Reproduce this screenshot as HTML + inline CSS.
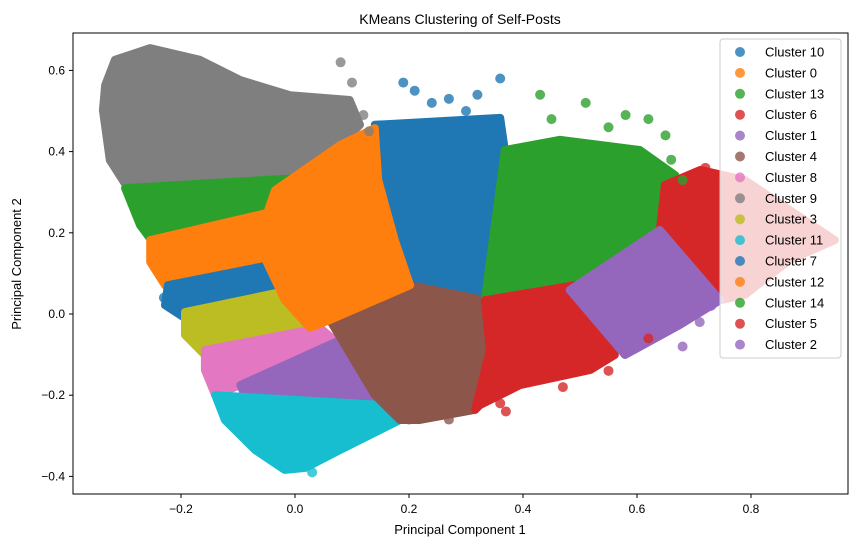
<!DOCTYPE html>
<html><head><meta charset="utf-8">
<style>
body{margin:0;background:#fff;}
svg text{font-family:"Liberation Sans","DejaVu Sans",sans-serif;}
</style></head>
<body>
<svg id="chart" width="857" height="547" viewBox="0 0 857 547" xmlns="http://www.w3.org/2000/svg">
<rect width="857" height="547" fill="#fff"/>
<text x="460" y="24" font-size="14" text-anchor="middle">KMeans Clustering of Self-Posts</text>
<g id="clusters"></g>
<g id="points"></g>
<rect x="73" y="33" width="775" height="461" fill="none" stroke="#000" stroke-width="1"/>
<g id="xticks"></g><g id="yticks"></g>
<text x="460" y="534" font-size="13" text-anchor="middle">Principal Component 1</text>
<text x="21" y="264" font-size="13" text-anchor="middle" transform="rotate(-90 21 264)">Principal Component 2</text>
<g id="legend"></g>
</svg>
<script>
const NS="http://www.w3.org/2000/svg";
const xTicks=[-0.2,0.0,0.2,0.4,0.6,0.8];
const yTicks=[-0.4,-0.2,0.0,0.2,0.4,0.6];
const legendNames=["Cluster 10","Cluster 0","Cluster 13","Cluster 6","Cluster 1","Cluster 4","Cluster 8","Cluster 9","Cluster 3","Cluster 11","Cluster 7","Cluster 12","Cluster 14","Cluster 5","Cluster 2"];
const legendColors=["#1f77b4","#ff7f0e","#2ca02c","#d62728","#9467bd","#8c564b","#e377c2","#7f7f7f","#bcbd22","#17becf","#1f77b4","#ff7f0e","#2ca02c","#d62728","#9467bd"];
const cluster9=[[-0.333,0.564],[-0.316,0.626],[-0.254,0.655],[-0.167,0.626],[-0.096,0.576],[-0.009,0.539],[0.096,0.527],[0.114,0.466],[0.044,0.367],[0.009,0.330],[-0.149,0.318],[-0.289,0.300],[-0.325,0.379],[-0.337,0.502]];
const cluster14=[[-0.298,0.310],[0.009,0.335],[0.009,0.256],[-0.246,0.170],[-0.272,0.219]];
const cluster12=[[-0.254,0.182],[0.009,0.268],[-0.018,0.128],[-0.228,0.071],[-0.254,0.128]];
const cluster7=[[-0.223,0.071],[-0.018,0.128],[0.009,0.059],[-0.193,-0.010],[-0.228,0.022]];
const cluster3=[[-0.193,0.005],[0.009,0.064],[0.044,-0.039],[-0.158,-0.101],[-0.193,-0.052]];
const cluster8=[[-0.158,-0.089],[0.044,-0.034],[0.079,-0.076],[-0.096,-0.175],[-0.140,-0.200],[-0.158,-0.138]];
const cluster1=[[-0.096,-0.175],[0.079,-0.064],[0.140,-0.212],[-0.088,-0.200]];
const cluster11=[[-0.140,-0.200],[0.149,-0.224],[0.184,-0.261],[0.079,-0.335],[0.018,-0.379],[-0.018,-0.384],[-0.070,-0.335],[-0.123,-0.261]];
const cluster0=[[-0.035,0.305],[0.079,0.416],[0.140,0.458],[0.146,0.330],[0.175,0.182],[0.202,0.071],[0.061,-0.015],[0.026,-0.034],[-0.018,0.034],[-0.053,0.138],[-0.047,0.256]];
const cluster10=[[0.140,0.466],[0.360,0.483],[0.368,0.404],[0.333,0.034],[0.202,0.059],[0.175,0.182],[0.146,0.330]];
const cluster4=[[0.061,-0.015],[0.202,0.071],[0.333,0.034],[0.342,-0.089],[0.316,-0.236],[0.219,-0.261],[0.184,-0.261],[0.140,-0.200]];
const cluster13=[[0.368,0.404],[0.465,0.429],[0.605,0.404],[0.667,0.342],[0.649,0.207],[0.640,0.121],[0.491,0.071],[0.333,0.034]];
const cluster6=[[0.333,0.034],[0.491,0.071],[0.561,-0.101],[0.518,-0.138],[0.395,-0.175],[0.325,-0.224],[0.316,-0.236],[0.342,-0.089]];
const cluster5=[[0.649,0.318],[0.711,0.355],[0.789,0.330],[0.868,0.256],[0.947,0.182],[0.868,0.133],[0.789,0.047],[0.746,0.034],[0.711,0.059],[0.640,0.207]];
const cluster2=[[0.482,0.059],[0.640,0.207],[0.746,0.034],[0.675,-0.027],[0.579,-0.101]];
const regions=[[cluster9,"#7f7f7f","cluster-9"],[cluster14,"#2ca02c","cluster-14"],[cluster12,"#ff7f0e","cluster-12"],[cluster7,"#1f77b4","cluster-7"],[cluster3,"#bcbd22","cluster-3"],[cluster8,"#e377c2","cluster-8"],[cluster1,"#9467bd","cluster-1"],[cluster11,"#17becf","cluster-11"],[cluster10,"#1f77b4","cluster-10"],[cluster4,"#8c564b","cluster-4"],[cluster13,"#2ca02c","cluster-13"],[cluster6,"#d62728","cluster-6"],[cluster5,"#d62728","cluster-5"],[cluster2,"#9467bd","cluster-2"],[cluster0,"#ff7f0e","cluster-0"]];
const outliers=[[-0.26,0.64,7],[-0.24,0.63,7],[-0.11,0.58,7],[-0.05,0.55,7],[0.08,0.62,7],[0.03,0.52,7],[0.1,0.57,7],[-0.2,0.6,7],[-0.15,0.57,7],[-0.08,0.54,7],[0.0,0.53,7],[0.06,0.5,7],[0.12,0.49,7],[0.13,0.45,7],[0.19,0.57,0],[0.21,0.55,0],[0.27,0.53,0],[0.36,0.58,0],[0.32,0.54,0],[0.24,0.52,0],[0.3,0.5,0],[0.43,0.54,2],[0.51,0.52,2],[0.58,0.49,2],[0.62,0.48,2],[0.65,0.44,2],[0.66,0.38,2],[0.45,0.48,2],[0.55,0.46,2],[0.68,0.33,2],[0.72,0.36,3],[0.74,0.34,3],[0.62,-0.06,3],[0.55,-0.14,3],[0.47,-0.18,3],[0.37,-0.24,3],[0.36,-0.22,3],[0.68,-0.08,4],[0.71,-0.02,4],[0.27,-0.26,5],[0.2,-0.26,5],[0.13,-0.27,9],[0.15,-0.28,9],[0.03,-0.39,9],[-0.23,0.04,0],[-0.26,0.22,2],[-0.33,0.5,7],[0.73,0.02,4]];
const X=v=>295+v*570, Y=v=>314-v*406;
const gC=document.getElementById('clusters');
regions.forEach(r=>{
  const p=document.createElementNS(NS,'polygon');
  p.setAttribute('points',r[0].map(q=>X(q[0]).toFixed(1)+','+Y(q[1]).toFixed(1)).join(' '));
  p.setAttribute('fill',r[1]);p.setAttribute('stroke',r[1]);p.setAttribute('stroke-width','8');p.setAttribute('stroke-linejoin','round');
  
  
  gC.appendChild(p);
});
const gP=document.getElementById('points');
outliers.forEach(o=>{
  const c=document.createElementNS(NS,'circle');
  c.setAttribute('cx',X(o[0]));c.setAttribute('cy',Y(o[1]));c.setAttribute('r',5);
  c.setAttribute('fill',legendColors[o[2]]);c.setAttribute('fill-opacity','0.8');
  
  
  gP.appendChild(c);
});
const gx=document.getElementById('xticks');
xTicks.forEach(t=>{
  const x=X(t);
  const l=document.createElementNS(NS,'line');
  l.setAttribute('x1',x);l.setAttribute('x2',x);l.setAttribute('y1',494);l.setAttribute('y2',498);l.setAttribute('stroke','#000');
  
  
  gx.appendChild(l);
  const s=document.createElementNS(NS,'text');
  s.setAttribute('x',x);s.setAttribute('y',513);s.setAttribute('font-size','12');s.setAttribute('text-anchor','middle');
  s.textContent=(t<0?'\u2212':'')+Math.abs(t).toFixed(1);
  
  
  gx.appendChild(s);
});
const gy=document.getElementById('yticks');
yTicks.forEach(t=>{
  const y=Y(t);
  const l=document.createElementNS(NS,'line');
  l.setAttribute('x1',69);l.setAttribute('x2',73);l.setAttribute('y1',y);l.setAttribute('y2',y);l.setAttribute('stroke','#000');
  
  
  gy.appendChild(l);
  const s=document.createElementNS(NS,'text');
  s.setAttribute('x',65);s.setAttribute('y',y+4);s.setAttribute('font-size','12');s.setAttribute('text-anchor','end');
  s.textContent=(t<0?'\u2212':'')+Math.abs(t).toFixed(1);
  
  
  gy.appendChild(s);
});
const gl=document.getElementById('legend');
const bg=document.createElementNS(NS,'rect');
bg.setAttribute('x',720);bg.setAttribute('y',39);bg.setAttribute('width',121);bg.setAttribute('height',319);bg.setAttribute('rx',3);
bg.setAttribute('fill','#fff');bg.setAttribute('fill-opacity','0.8');bg.setAttribute('stroke','#ccc');


gl.appendChild(bg);
legendNames.forEach((n,i)=>{
  const y=52+i*20.9;
  const c=document.createElementNS(NS,'circle');
  c.setAttribute('cx',740);c.setAttribute('cy',y);c.setAttribute('r',5);c.setAttribute('fill',legendColors[i]);c.setAttribute('fill-opacity','0.8');
  
  
  gl.appendChild(c);
  const s=document.createElementNS(NS,'text');
  s.setAttribute('x',765);s.setAttribute('y',y+4.5);s.setAttribute('font-size','13');
  s.textContent=n;
  
  
  gl.appendChild(s);
});
</script>
</body></html>
